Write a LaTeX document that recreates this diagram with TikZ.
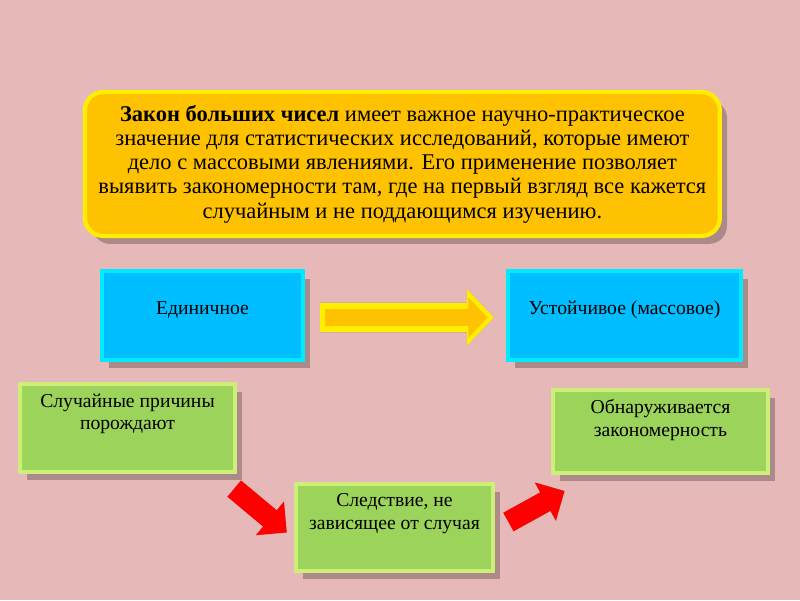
\documentclass[tikz,border=0pt]{standalone}
\usepackage{fontspec}
\setmainfont{Liberation Serif}
\usetikzlibrary{positioning,shadows,arrows.meta}

\definecolor{bgpink}{RGB}{230,185,184}
\definecolor{skyblue}{RGB}{0,190,255}
\definecolor{skyedge}{RGB}{0,235,255}
\definecolor{leafgreen}{RGB}{156,211,90}
\definecolor{leafedge}{RGB}{205,238,120}
\definecolor{goldfill}{RGB}{255,194,0}
\definecolor{goldedge}{RGB}{255,238,0}

\begin{document}
\begin{tikzpicture}[
  shade/.style={drop shadow={shadow xshift=.18cm,shadow yshift=-.2cm,opacity=.25,fill=black}},
  topbox/.style={rectangle,rounded corners=.45cm,fill=goldfill,draw=goldedge,line width=3pt,
    align=center,minimum width=15.87cm,minimum height=3.595cm,
    font=\fontsize{16}{17.25}\selectfont,shade},
  bluebox/.style={rectangle,fill=skyblue,draw=skyedge,line width=3pt,minimum height=2.22cm,shade},
  greenbox/.style={rectangle,fill=leafgreen,draw=leafedge,line width=3pt,shade},
  lbl/.style={inner sep=0pt,align=center,font=\fontsize{14}{16}\selectfont},
  redarrow/.style={red,line width=.53cm,-{Triangle[length=.55cm,width=1.06cm]}},
  goldarrow/.style={color=goldedge,line width=.74cm,-{Triangle[length=.68cm,width=1.375cm]}},
]

\fill[bgpink] (0,0) rectangle (20,15);
\useasboundingbox (0,0) rectangle (20,15);

% law statement
\node[topbox] (law) at (10.06,10.9) {\textbf{Закон больших чисел} имеет важное научно-практическое\\
значение для статистических исследований, которые имеют\\
дело с массовыми явлениями. Его применение позволяет\\
выявить закономерности там, где на первый взгляд все кажется\\
случайным и не поддающимся изучению.};

% blue boxes
\node[bluebox,minimum width=5.02cm] (single) at (5.0625,7.1125) {};
\node[bluebox,minimum width=5.82cm] (mass) at (15.6125,7.1125) {};
\node[lbl,below=.8cm of single.north] (single-t) {Единичное};
\node[lbl,below=.78cm of mass.north] (mass-t) {Устойчивое (массовое)};

% green boxes
\node[greenbox,minimum width=5.37cm,minimum height=2.195cm] (cause) at (3.1875,4.3) {};
\node[greenbox,minimum width=4.92cm,minimum height=2.17cm] (effect) at (9.8625,1.8125) {};
\node[greenbox,minimum width=5.37cm,minimum height=2.07cm] (rule) at (16.5125,4.2125) {};
\node[lbl,below=.29cm of cause.north] (cause-t) {Случайные причины\\порождают};
\node[lbl,below=.29cm of effect.north] (effect-t) {Следствие, не\\зависящее от случая};
\node[lbl,below=.29cm of rule.north] (rule-t) {Обнаруживается\\закономерность};

% arrows
\begin{scope}[transparency group,opacity=.2,shift={(.15,-.2)}]
\draw[goldarrow,black] ([shift={(.385,-.05)}]single.east) -- ([shift={(-.3,-.05)}]mass.west);
\draw[redarrow,black] ([shift={(-.07,-.365)}]cause.south east) -- ([shift={(-.18,-.125)}]effect.west);
\draw[redarrow,black] ([shift={(.335,.1375)}]effect.east) -- ([shift={(.34,-.4)}]rule.south west);
\end{scope}
\draw[goldarrow] ([shift={(.385,-.05)}]single.east) -- ([shift={(-.3,-.05)}]mass.west);
\draw[goldarrow,color=goldfill,line width=.42cm,-{Triangle[length=.48cm,width=.98cm]}]
  ([shift={(.5,-.05)}]single.east) -- ([shift={(-.46,-.05)}]mass.west);
\draw[redarrow] ([shift={(-.07,-.365)}]cause.south east) -- ([shift={(-.18,-.125)}]effect.west);
\draw[redarrow] ([shift={(.335,.1375)}]effect.east) -- ([shift={(.34,-.4)}]rule.south west);

\end{tikzpicture}
\end{document}
